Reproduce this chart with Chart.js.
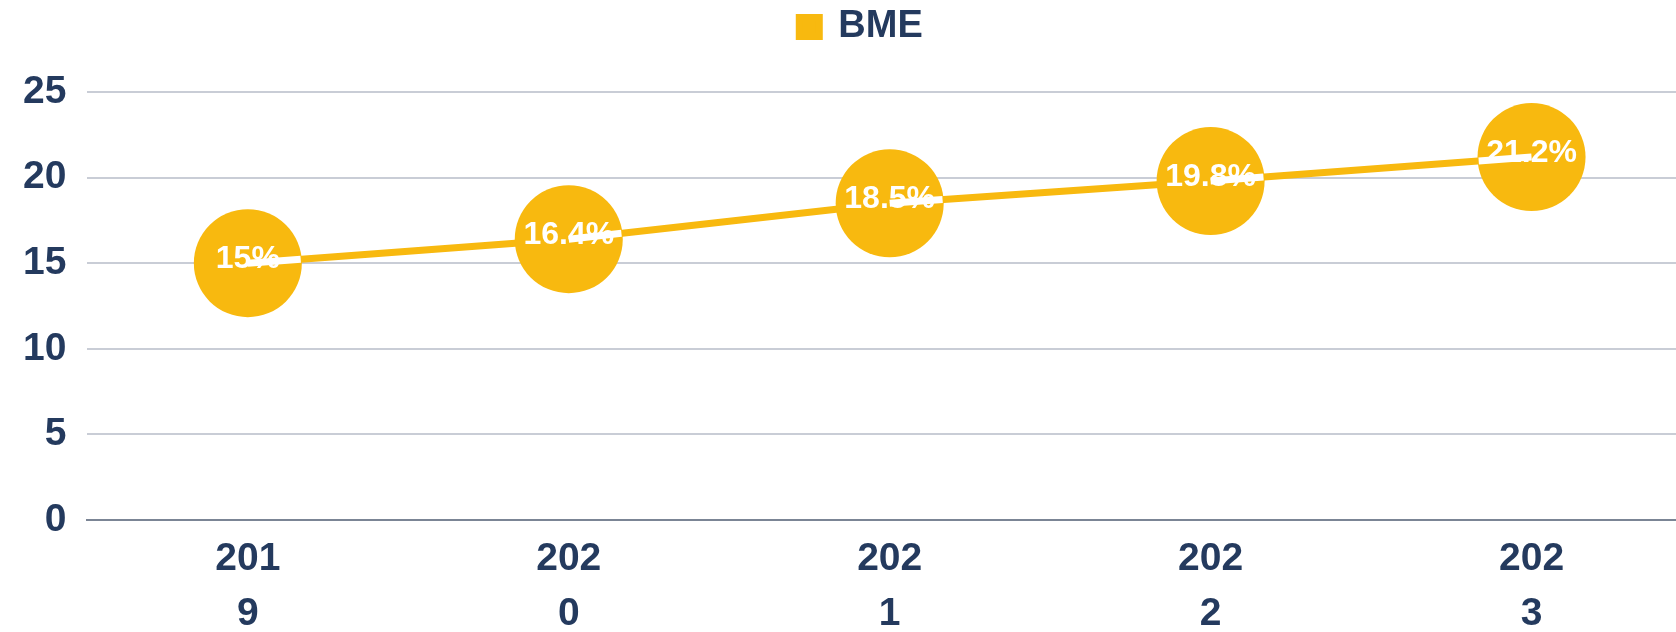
<!DOCTYPE html>
<html>
<head>
<meta charset="utf-8">
<script src="https://cdn.jsdelivr.net/npm/chart.js@4"></script>
<style>
  html, body { margin: 0; padding: 0; background: #fff; }
  #wrap { width: 1676px; height: 632px; }
</style>
</head>
<body>
<div id="wrap"><canvas id="bmeChart"></canvas></div>
<script>
const years = ['2019', '2020', '2021', '2022', '2023'];
const tickLabels = [['201', '9'], ['202', '0'], ['202', '1'], ['202', '2'], ['202', '3']];
const bmeValues = [15, 16.4, 18.5, 19.8, 21.2];
const yTicks = [0, 5, 10, 15, 20, 25];

const NAVY = '#243A5E';
const GOLD = '#F8B90F';
const FONT = "'Liberation Sans', Arial, sans-serif";

// legend box gets a fixed height so the plot starts lower; x axis runs past the right edge
const layoutTweaks = {
  id: 'layoutTweaks',
  beforeLayout(chart) {
    const lg = chart.legend;
    if (lg && !lg._fixed) {
      const fit = lg.fit.bind(lg);
      lg.fit = function () { fit(); this.height = 92; };
      lg._fixed = true;
    }
  },
  afterLayout(chart) {
    const lg = chart.legend;
    if (lg) { lg.left += 22; lg.right += 22; }
    const x = chart.scales.x;
    x.right += 16;
    x.width += 16;
    x.configure();
  }
};

// white stub from each point toward its neighbour, plus the % labels
const pointLabels = {
  id: 'pointLabels',
  afterDatasetsDraw(chart) {
    const ctx = chart.ctx;
    const pts = chart.getDatasetMeta(0).data;
    ctx.save();
    ctx.strokeStyle = '#fff';
    ctx.lineWidth = 7;
    pts.forEach((p, i) => {
      const other = i < pts.length - 1 ? pts[i + 1] : pts[i - 1];
      const dx = other.x - p.x, dy = other.y - p.y;
      const len = Math.hypot(dx, dy);
      const r = p.options.radius - 1;
      ctx.beginPath();
      ctx.moveTo(p.x, p.y);
      ctx.lineTo(p.x + dx / len * r, p.y + dy / len * r);
      ctx.stroke();
    });
    ctx.fillStyle = '#fff';
    ctx.font = 'bold 32px ' + FONT;
    ctx.textAlign = 'center';
    ctx.textBaseline = 'middle';
    pts.forEach((p, i) => {
      ctx.fillText(bmeValues[i] + '%', p.x, p.y - 4);
    });
    ctx.restore();
  }
};

new Chart(document.getElementById('bmeChart'), {
  type: 'line',
  data: {
    labels: years,
    datasets: [{
      label: 'BME',
      data: bmeValues,
      borderColor: GOLD,
      backgroundColor: GOLD,
      borderWidth: 7,
      tension: 0,
      pointRadius: 54,
      pointHoverRadius: 54,
      pointBorderWidth: 0,
      pointBackgroundColor: GOLD
    }]
  },
  options: {
    responsive: true,
    maintainAspectRatio: false,
    animation: false,
    layout: { autoPadding: false, padding: { left: 2, right: 0, top: 0, bottom: 0 } },
    plugins: {
      tooltip: { enabled: false },
      legend: {
        position: 'top',
        labels: {
          color: NAVY,
          font: { family: FONT, size: 38, weight: 'bold' },
          boxWidth: 20,
          boxHeight: 19,
          padding: 8
        }
      }
    },
    scales: {
      x: {
        offset: true,
        grid: { display: false, drawTicks: false },
        border: { display: true, color: '#7B8595', width: 2 },
        afterFit: s => { s.height = 112; s.paddingLeft = 0; s.paddingRight = 0; },
        ticks: {
          color: NAVY,
          padding: 12,
          maxRotation: 0,
          autoSkip: false,
          font: { family: FONT, size: 39, weight: 'bold', lineHeight: 1.41 },
          callback: (v, i) => tickLabels[i]
        }
      },
      y: {
        min: 0,
        max: 25,
        border: { display: false },
        grid: {
          drawTicks: false,
          lineWidth: 2,
          color: c => c.tick && c.tick.value === 0 ? '#7B8595' : '#C9CDD6'
        },
        afterBuildTicks: s => { s.ticks = yTicks.map(v => ({ value: v })); },
        ticks: {
          color: NAVY,
          padding: 21,
          font: { family: FONT, size: 39, weight: 'bold' }
        }
      }
    }
  },
  plugins: [layoutTweaks, pointLabels]
});
</script>
</body>
</html>
